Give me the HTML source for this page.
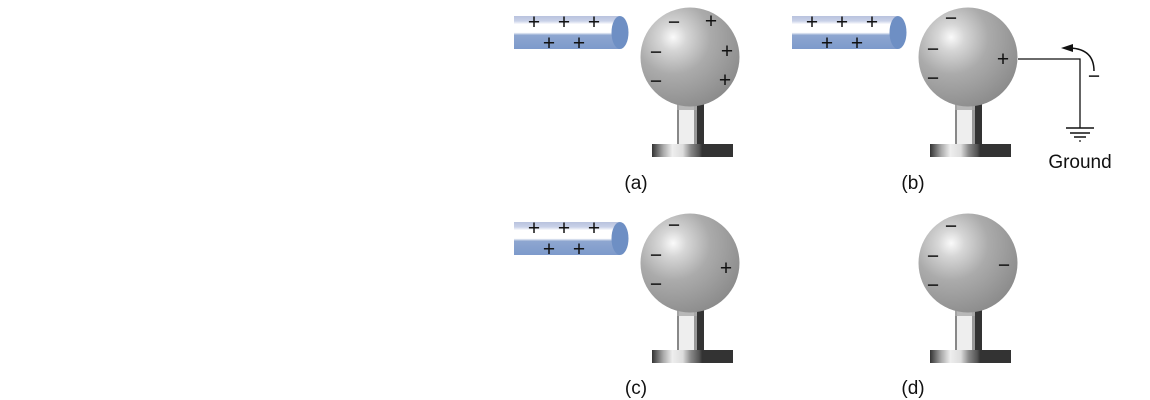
<!DOCTYPE html>
<html><head><meta charset="utf-8"><style>
html,body{margin:0;padding:0;background:#fff;}
svg{display:block;font-family:"Liberation Sans",sans-serif;}
</style></head><body>
<svg width="1150" height="400" viewBox="0 0 1150 400" xmlns="http://www.w3.org/2000/svg">
<defs>
<radialGradient id="sph" cx="0.33" cy="0.3" r="0.75">
<stop offset="0" stop-color="#fafafa"/>
<stop offset="0.18" stop-color="#d6d6d6"/>
<stop offset="0.5" stop-color="#ababab"/>
<stop offset="1" stop-color="#8c8c8c"/>
</radialGradient>
<linearGradient id="rod" x1="0" y1="0" x2="0" y2="1">
<stop offset="0" stop-color="#b9c3de"/>
<stop offset="0.15" stop-color="#c9d1e8"/>
<stop offset="0.25" stop-color="#ffffff"/>
<stop offset="0.5" stop-color="#ffffff"/>
<stop offset="0.58" stop-color="#8ea6d0"/>
<stop offset="1" stop-color="#7d9acb"/>
</linearGradient>
<linearGradient id="base" x1="0" y1="0" x2="1" y2="0">
<stop offset="0" stop-color="#333"/>
<stop offset="0.08" stop-color="#777"/>
<stop offset="0.14" stop-color="#aaa"/>
<stop offset="0.25" stop-color="#eee"/>
<stop offset="0.38" stop-color="#ddd"/>
<stop offset="0.48" stop-color="#888"/>
<stop offset="0.58" stop-color="#555"/>
<stop offset="0.62" stop-color="#333"/>
<stop offset="1" stop-color="#333"/>
</linearGradient>
<g id="rodg">
<rect x="514" y="16" width="106" height="33" fill="url(#rod)"/>
<ellipse cx="620" cy="32.5" rx="8.5" ry="16.5" fill="#6e8fc4"/>
<g font-size="21" fill="#111" text-anchor="middle">
<text x="534" y="29">+</text><text x="564" y="29">+</text><text x="594" y="29">+</text>
<text x="549" y="50">+</text><text x="579" y="50">+</text>
</g>
</g>
<g id="esc">
<rect x="677" y="100" width="27" height="45" fill="#888"/>
<rect x="679" y="105" width="15" height="40" fill="#eee"/>
<rect x="694" y="100" width="3" height="45" fill="#999"/>
<rect x="697" y="100" width="7" height="45" fill="#333"/>
<rect x="677" y="100" width="20" height="10" fill="#aaa" opacity="0.8"/>
<rect x="652" y="144" width="81" height="13" fill="url(#base)"/>
<circle cx="690" cy="57" r="49.5" fill="url(#sph)"/>
</g>
</defs>

<use href="#rodg"/>
<use href="#esc"/>
<g font-size="21" fill="#111" text-anchor="middle">
<text x="674" y="29">−</text><text x="711" y="28">+</text>
<text x="656" y="59">−</text><text x="727" y="58">+</text>
<text x="656" y="88">−</text><text x="725" y="87">+</text>
</g>
<text x="636" y="189" font-size="19" text-anchor="middle" fill="#111">(a)</text>

<use href="#rodg" x="278"/>
<use href="#esc" x="278"/>
<g font-size="21" fill="#111" text-anchor="middle">
<text x="951" y="25">−</text><text x="933" y="56">−</text>
<text x="933" y="85">−</text><text x="1003" y="66">+</text>
<text x="1094" y="83">−</text>
</g>
<path d="M1018 59 H1080 V128" fill="none" stroke="#111" stroke-width="1.3"/>
<path d="M1066 128 H1094 M1070 133 H1090 M1074 137 H1086" stroke="#111" stroke-width="1.5"/>
<circle cx="1080" cy="141" r="0.9" fill="#111"/>
<path d="M1094 71 Q1094 49 1070 48" fill="none" stroke="#111" stroke-width="1.5"/>
<path d="M1061 48 L1073 44 L1073 52 Z" fill="#111"/>
<text x="1080" y="168" font-size="19" text-anchor="middle" fill="#111">Ground</text>
<text x="913" y="189" font-size="19" text-anchor="middle" fill="#111">(b)</text>

<use href="#rodg" y="206"/>
<use href="#esc" y="206"/>
<g font-size="21" fill="#111" text-anchor="middle">
<text x="674" y="232">−</text><text x="656" y="262">−</text>
<text x="656" y="291">−</text><text x="726" y="275">+</text>
</g>
<text x="636" y="394" font-size="19" text-anchor="middle" fill="#111">(c)</text>

<use href="#esc" x="278" y="206"/>
<g font-size="21" fill="#111" text-anchor="middle">
<text x="951" y="233">−</text><text x="933" y="263">−</text>
<text x="933" y="292">−</text><text x="1004" y="272">−</text>
</g>
<text x="913" y="394" font-size="19" text-anchor="middle" fill="#111">(d)</text>
</svg>
</body></html>
